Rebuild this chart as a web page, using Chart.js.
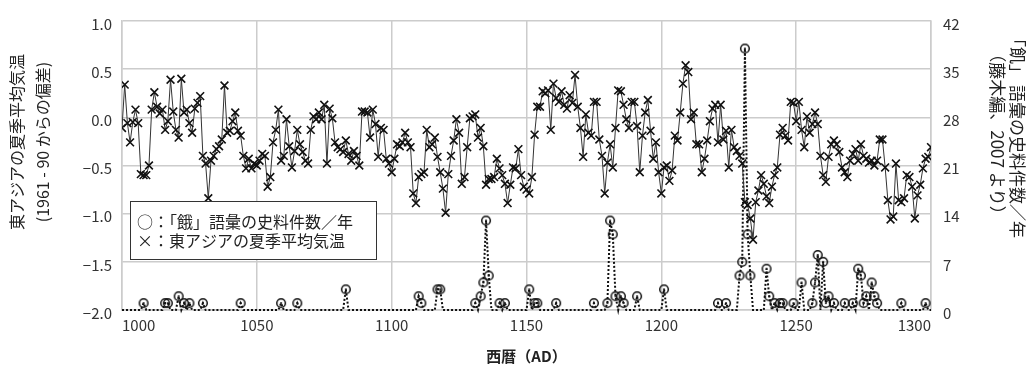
<!DOCTYPE html>
<html lang="ja">
<head>
<meta charset="utf-8">
<title>東アジアの夏季平均気温と「飢」語彙の史料件数</title>
<script src="https://cdn.jsdelivr.net/npm/chart.js@4.4.1/dist/chart.umd.min.js"></script>
<style>
    body { margin: 0; background: #fff; }
</style>
</head>
<body>
<canvas id="chartClimate" width="1030" height="371"></canvas>
<script>
// 東アジアの夏季平均気温 (1961-90 からの偏差), 1000 - 1300 AD, one value per year
var firstYear = 1000;
var tempAnom = [
    -0.11, 0.34, -0.06, -0.26, -0.05, 0.08, -0.06, -0.59, -0.60, -0.60,   // 1000
    -0.50, 0.08, 0.26, 0.11, 0.04, 0.08, -0.13, -0.04, 0.39, 0.06,        // 1010
    -0.13, -0.21, 0.40, 0.05, 0.08, -0.06, -0.16, 0.09, 0.15, 0.22,       // 1020
    -0.40, -0.48, -0.84, -0.45, -0.40, -0.33, -0.30, -0.23, 0.33, -0.16,  // 1030
    -0.14, -0.04, 0.05, -0.14, -0.19, -0.40, -0.53, -0.43, -0.53, -0.48,  // 1040
    -0.50, -0.45, -0.38, -0.40, -0.72, -0.62, -0.26, -0.13, 0.08, -0.45,  // 1050
    -0.40, -0.02, -0.30, -0.52, -0.35, -0.13, -0.28, -0.36, -0.45, -0.48, // 1060
    -0.13, 0.01, -0.02, 0.05, -0.02, 0.13, -0.48, 0.09, -0.01, -0.26,     // 1070
    -0.31, -0.33, -0.36, -0.24, -0.38, -0.45, -0.35, -0.40, -0.50, 0.06,  // 1080
    0.06, 0.05, -0.21, 0.08, -0.07, -0.41, -0.11, -0.13, -0.43, -0.48,    // 1090
    -0.57, -0.43, -0.28, -0.30, -0.26, -0.16, -0.26, -0.31, -0.79, -0.89, // 1100
    -0.62, -0.59, -0.57, -0.13, -0.31, -0.28, -0.21, -0.41, -0.57, -0.74, // 1110
    -0.99, -0.59, -0.40, -0.24, -0.02, -0.16, -0.69, -0.62, -0.31, -0.01, // 1120
    0.01, 0.03, -0.21, -0.11, -0.30, -0.70, -0.64, -0.64, -0.62, -0.43,   // 1130
    -0.53, -0.60, -0.69, -0.89, -0.70, -0.52, -0.53, -0.33, -0.60, -0.72, // 1140
    -0.75, -0.79, -0.62, -0.18, 0.11, 0.11, 0.27, 0.25, 0.28, -0.13,      // 1150
    0.35, 0.20, 0.16, 0.27, 0.13, 0.09, 0.23, 0.15, 0.44, 0.11,           // 1160
    -0.11, -0.41, 0.03, -0.16, -0.19, 0.16, 0.16, -0.23, -0.40, -0.79,    // 1170
    -0.47, -0.28, -0.52, -0.11, 0.28, 0.27, 0.13, -0.02, -0.11, 0.16,     // 1180
    0.16, -0.09, -0.57, -0.19, 0.05, 0.18, -0.14, -0.43, -0.26, -0.57,    // 1190
    -0.79, -0.52, -0.50, -0.66, -0.55, -0.19, -0.24, 0.05, 0.35, 0.54,    // 1200
    0.47, -0.02, 0.05, -0.28, -0.28, -0.57, -0.43, -0.24, -0.04, 0.09,    // 1210
    0.13, -0.26, 0.13, -0.23, -0.14, -0.52, -0.13, -0.31, -0.35, -0.40,   // 1220
    -0.48, -0.88, -0.91, -1.05, -1.27, -0.88, -0.76, -0.60, -0.69, -0.82, // 1230
    -0.89, -0.72, -0.60, -0.52, -0.18, -0.11, -0.19, -0.24, 0.16, 0.15,   // 1240
    -0.04, 0.16, -0.13, -0.31, 0.01, -0.16, -0.07, 0.05, -0.07, -0.40,    // 1250
    -0.60, -0.67, -0.41, -0.28, -0.24, -0.28, -0.36, -0.52, -0.57, -0.62, // 1260
    -0.45, -0.38, -0.33, -0.45, -0.28, -0.40, -0.43, -0.47, -0.45, -0.50, // 1270
    -0.45, -0.23, -0.23, -0.52, -0.86, -1.06, -1.03, -0.48, -0.86, -0.88, // 1280
    -0.84, -0.60, -0.62, -0.72, -1.05, -0.81, -0.70, -0.53, -0.43, -0.41, // 1290
    -0.31                                                                 // 1300
];

// 「飢」語彙の史料件数 (years with at least one record; all other years are 0)
var famineYears = [
    1008, 1016, 1017, 1021, 1023, 1025, 1030, 1044, 1059, 1065, 1083,
    1110, 1111, 1117, 1118, 1131, 1133, 1134, 1135, 1136, 1140, 1142,
    1151, 1153, 1154, 1161, 1175, 1180, 1181, 1182, 1183, 1185, 1186, 1191,
    1201, 1221, 1224, 1229, 1230, 1231, 1232, 1233, 1239, 1240, 1242, 1244, 1245, 1249,
    1252, 1256, 1257, 1258, 1260, 1261, 1262, 1264, 1268, 1271, 1273, 1274, 1275,
    1276, 1278, 1279, 1280, 1289, 1298
];
var famineCounts = [
    1, 1, 1, 2, 1, 1, 1, 1, 1, 1, 3,
    2, 1, 3, 3, 1, 2, 4, 13, 5, 1, 1,
    3, 1, 1, 1, 1, 1, 13, 11, 2, 2, 1, 2,
    3, 1, 1, 5, 7, 38, 11, 5, 6, 2, 1, 1, 1, 1,
    4, 1, 4, 8, 7, 1, 2, 1, 1, 1, 6, 5, 1,
    2, 4, 2, 1, 1, 1
];

var tempTicks = [-2.0, -1.5, -1.0, -0.5, 0.0, 0.5, 1.0];
var countTicks = [0, 7, 14, 21, 28, 35, 42];
var yearTicks = [1000, 1050, 1100, 1150, 1200, 1250, 1300];

var famineLabel = '○：「餓」語彙の史料件数／年';
var tempLabel = '×：東アジアの夏季平均気温';
var leftTitle = ['東アジアの夏季平均気温', '(1961 - 90 からの偏差)'];
var rightTitle = ['「飢」 語彙の史料件数／年', '（藤木編、2007 より）'];

document.addEventListener('DOMContentLoaded', function () {
    var fontFamily = "'Noto Sans CJK JP', 'Noto Sans', sans-serif";
    var gridColor = '#cccccc';

    var tempData = tempAnom.map(function (v, i) { return { x: firstYear + i, y: v }; });
    var famineData = tempAnom.map(function (v, i) {
        var k = famineYears.indexOf(firstYear + i);
        return { x: firstYear + i, y: k >= 0 ? famineCounts[k] : 0 };
    });

    // ring with a dot in the middle
    var ring = document.createElement('canvas');
    ring.width = 12; ring.height = 12;
    var rc = ring.getContext('2d');
    rc.strokeStyle = '#111';
    rc.lineWidth = 1.5;
    rc.beginPath(); rc.arc(6, 6, 4.3, 0, Math.PI * 2); rc.stroke();
    rc.fillStyle = '#111';
    rc.beginPath(); rc.arc(6, 6, 1.1, 0, Math.PI * 2); rc.fill();

    // side titles and the boxed key inside the plot
    var extras = {
        id: 'extras',
        afterDraw: function (chart) {
            var c = chart.ctx;
            c.save();
            c.fillStyle = '#222';
            c.textAlign = 'center';
            c.textBaseline = 'middle';
            c.font = '16px ' + fontFamily;
            leftTitle.forEach(function (t, i) {
                c.save();
                c.translate(17 + i * 26, 142);
                c.rotate(-Math.PI / 2);
                c.fillText(t, 0, 0);
                c.restore();
            });
            c.font = '17px ' + fontFamily;
            rightTitle.forEach(function (t, i) {
                c.save();
                c.translate(1017 - i * 20, 134);
                c.rotate(Math.PI / 2);
                c.fillText(t, 0, 0);
                c.restore();
            });

            // key box
            c.fillStyle = '#fff';
            c.fillRect(130, 201, 247, 59);
            c.strokeStyle = '#333';
            c.lineWidth = 1;
            c.strokeRect(130.5, 201.5, 246, 58);
            c.fillStyle = '#222';
            c.textAlign = 'left';
            c.font = '16px ' + fontFamily;
            c.fillText(famineLabel, 137, 222);
            c.fillText(tempLabel, 137, 241);
            c.restore();
        }
    };

    var ctx = document.getElementById('chartClimate');
    new Chart(ctx, {
        type: 'line',
        data: {
            datasets: [{
                label: famineLabel,
                yAxisID: 'yR',
                data: famineData,
                borderColor: '#111',
                borderWidth: 2,
                borderDash: [2, 2],
                tension: 0,
                pointStyle: ring,
                pointRadius: function (c) { return c.raw && c.raw.y > 0 ? 4 : 0; },
                clip: false,
                order: 2
            }, {
                label: tempLabel,
                yAxisID: 'yL',
                data: tempData,
                borderColor: '#333',
                borderWidth: 1,
                tension: 0,
                pointStyle: 'crossRot',
                pointRadius: 5.5,
                pointBorderWidth: 1.6,
                pointBorderColor: '#111',
                order: 1
            }]
        },
        options: {
            responsive: false,
            animation: false,
            layout: { padding: { top: 17, left: 0, right: 0, bottom: 0 } },
            plugins: { legend: { display: false }, tooltip: { enabled: false } },
            scales: {
                x: {
                    type: 'linear',
                    min: 1000,
                    max: 1300,
                    afterBuildTicks: function (s) { s.ticks = yearTicks.map(function (v) { return { value: v }; }); },
                    afterFit: function (s) { s.height = 61; },
                    ticks: {
                        align: 'inner', padding: 6, color: '#333',
                        font: { family: fontFamily, size: 15 },
                        callback: function (v) { return String(v); }
                    },
                    grid: { color: gridColor, lineWidth: 1.5, drawTicks: false },
                    border: { color: gridColor, width: 1.5 },
                    title: {
                        display: true, text: '西暦（AD）', color: '#222',
                        font: { family: fontFamily, size: 15, weight: 'bold' },
                        padding: { top: 0, bottom: 6 }
                    }
                },
                yL: {
                    position: 'left',
                    min: -2,
                    max: 1,
                    afterBuildTicks: function (s) { s.ticks = tempTicks.map(function (v) { return { value: v }; }); },
                    afterFit: function (s) { s.width = 122; },
                    ticks: {
                        padding: 10, labelOffset: 3, color: '#333',
                        font: { family: fontFamily, size: 15 },
                        callback: function (v) { return (v < 0 ? '−' : '') + Math.abs(v).toFixed(1); }
                    },
                    grid: { color: gridColor, lineWidth: 1.5, drawTicks: false },
                    border: { color: gridColor, width: 1.5 }
                },
                yR: {
                    position: 'right',
                    min: 0,
                    max: 42,
                    afterBuildTicks: function (s) { s.ticks = countTicks.map(function (v) { return { value: v }; }); },
                    afterFit: function (s) { s.width = 99; },
                    ticks: { padding: 12, labelOffset: 3, color: '#333', font: { family: fontFamily, size: 15 } },
                    grid: { display: false, drawTicks: false },
                    border: { color: gridColor, width: 1.5 }
                }
            }
        },
        plugins: [extras]
    });
});
</script>
</body>
</html>
